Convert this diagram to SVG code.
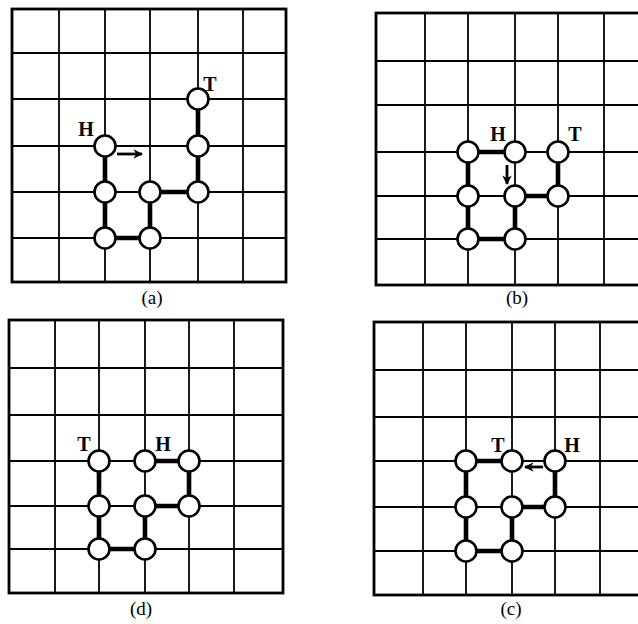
<svg xmlns="http://www.w3.org/2000/svg" width="638" height="624" viewBox="0 0 638 624">
<style>
.bg{fill:#fff}
.frame{fill:none;stroke:#000;stroke-width:2.8}
.grid line{stroke:#000;stroke-width:1.8}
.bond{stroke:#000;stroke-width:4.6;stroke-linecap:round}
.node circle{fill:#fff;stroke:#000;stroke-width:2.6}
.lbl{font-family:"Liberation Serif","Times New Roman",serif;font-weight:bold;font-size:20px;fill:#000;text-anchor:middle}
.cap{font-family:"Liberation Serif","Times New Roman",serif;font-size:19px;fill:#000;text-anchor:middle}
.arrow{stroke:#000;stroke-width:2.8;fill:none;marker-end:url(#ah)}
</style>
<defs>
<marker id="ah" viewBox="0 0 10 10" refX="9" refY="5" markerWidth="3.4" markerHeight="3.4" orient="auto" markerUnits="strokeWidth">
<path d="M0,0 L10,5 L0,10 L3,5 Z" fill="#000"/>
</marker>
</defs>
<rect class="bg" x="0" y="0" width="638" height="624"/>

<!-- Panel (a) grid -->
<g id="grid-a" class="grid">
<line x1="59" y1="9" x2="59" y2="282"/><line x1="105" y1="9" x2="105" y2="282"/><line x1="150" y1="9" x2="150" y2="282"/><line x1="198" y1="9" x2="198" y2="282"/><line x1="243" y1="9" x2="243" y2="282"/>
<line x1="12" y1="53" x2="286" y2="53"/><line x1="12" y1="99" x2="286" y2="99"/><line x1="12" y1="146" x2="286" y2="146"/><line x1="12" y1="192" x2="286" y2="192"/><line x1="12" y1="238" x2="286" y2="238"/>
<rect class="frame" x="12" y="9" width="274" height="273"/>
</g>
<!-- Panel (b) grid -->
<g id="grid-b" class="grid">
<line x1="425" y1="13" x2="425" y2="285"/><line x1="468" y1="13" x2="468" y2="285"/><line x1="515" y1="13" x2="515" y2="285"/><line x1="558" y1="13" x2="558" y2="285"/><line x1="604" y1="13" x2="604" y2="285"/>
<line x1="376" y1="61" x2="640" y2="61"/><line x1="376" y1="105" x2="640" y2="105"/><line x1="376" y1="152" x2="640" y2="152"/><line x1="376" y1="196" x2="640" y2="196"/><line x1="376" y1="239" x2="640" y2="239"/>
<rect class="frame" x="376" y="13" width="300" height="272"/>
</g>
<!-- Panel (d) grid -->
<g id="grid-d" class="grid">
<line x1="55" y1="320" x2="55" y2="593"/><line x1="99" y1="320" x2="99" y2="593"/><line x1="145" y1="320" x2="145" y2="593"/><line x1="189" y1="320" x2="189" y2="593"/><line x1="234" y1="320" x2="234" y2="593"/>
<line x1="9" y1="368" x2="283" y2="368"/><line x1="9" y1="415" x2="283" y2="415"/><line x1="9" y1="461" x2="283" y2="461"/><line x1="9" y1="506" x2="283" y2="506"/><line x1="9" y1="549" x2="283" y2="549"/>
<rect class="frame" x="9" y="320" width="274" height="273"/>
</g>
<!-- Panel (c) grid -->
<g id="grid-c" class="grid">
<line x1="423" y1="322" x2="423" y2="595"/><line x1="466" y1="322" x2="466" y2="595"/><line x1="512" y1="322" x2="512" y2="595"/><line x1="555" y1="322" x2="555" y2="595"/><line x1="600" y1="322" x2="600" y2="595"/>
<line x1="374" y1="370" x2="640" y2="370"/><line x1="374" y1="417" x2="640" y2="417"/><line x1="374" y1="461" x2="640" y2="461"/><line x1="374" y1="507" x2="640" y2="507"/><line x1="374" y1="551" x2="640" y2="551"/>
<rect class="frame" x="374" y="322" width="300" height="273"/>
</g>

<!-- Connectors (bonds and move arrows) -->
<g id="connectors">
<!-- (a) -->
<line class="bond" x1="105" y1="146" x2="105" y2="192"/>
<line class="bond" x1="105" y1="192" x2="105" y2="238"/>
<line class="bond" x1="105" y1="238" x2="150" y2="238"/>
<line class="bond" x1="150" y1="238" x2="150" y2="192"/>
<line class="bond" x1="150" y1="192" x2="198" y2="192"/>
<line class="bond" x1="198" y1="192" x2="198" y2="146"/>
<line class="bond" x1="198" y1="146" x2="198" y2="99"/>
<line class="arrow" x1="117" y1="154" x2="142" y2="154"/>
<!-- (b) -->
<line class="bond" x1="515" y1="152" x2="468" y2="152"/>
<line class="bond" x1="468" y1="152" x2="468" y2="196"/>
<line class="bond" x1="468" y1="196" x2="468" y2="239"/>
<line class="bond" x1="468" y1="239" x2="515" y2="239"/>
<line class="bond" x1="515" y1="239" x2="515" y2="196"/>
<line class="bond" x1="515" y1="196" x2="558" y2="196"/>
<line class="bond" x1="558" y1="196" x2="558" y2="152"/>
<line class="arrow" x1="507" y1="165" x2="507" y2="184"/>
<!-- (d) -->
<line class="bond" x1="145" y1="461" x2="189" y2="461"/>
<line class="bond" x1="189" y1="461" x2="189" y2="506"/>
<line class="bond" x1="189" y1="506" x2="145" y2="506"/>
<line class="bond" x1="145" y1="506" x2="145" y2="549"/>
<line class="bond" x1="145" y1="549" x2="99" y2="549"/>
<line class="bond" x1="99" y1="549" x2="99" y2="506"/>
<line class="bond" x1="99" y1="506" x2="99" y2="461"/>
<!-- (c) -->
<line class="bond" x1="555" y1="461" x2="555" y2="507"/>
<line class="bond" x1="555" y1="507" x2="512" y2="507"/>
<line class="bond" x1="512" y1="507" x2="512" y2="551"/>
<line class="bond" x1="512" y1="551" x2="466" y2="551"/>
<line class="bond" x1="466" y1="551" x2="466" y2="507"/>
<line class="bond" x1="466" y1="507" x2="466" y2="461"/>
<line class="bond" x1="466" y1="461" x2="512" y2="461"/>
<line class="arrow" x1="543" y1="467" x2="525" y2="467"/>
</g>

<!-- Nodes (a) -->
<g id="a-H" class="node"><circle cx="105" cy="146" r="10.5"/><text class="lbl" x="86" y="136">H</text></g>
<g id="a-2" class="node"><circle cx="105" cy="192" r="10.5"/></g>
<g id="a-3" class="node"><circle cx="105" cy="238" r="10.5"/></g>
<g id="a-4" class="node"><circle cx="150" cy="238" r="10.5"/></g>
<g id="a-5" class="node"><circle cx="150" cy="192" r="10.5"/></g>
<g id="a-6" class="node"><circle cx="198" cy="192" r="10.5"/></g>
<g id="a-7" class="node"><circle cx="198" cy="146" r="10.5"/></g>
<g id="a-T" class="node"><circle cx="198" cy="99" r="10.5"/><text class="lbl" x="210" y="91">T</text></g>
<!-- Nodes (b) -->
<g id="b-H" class="node"><circle cx="515" cy="152" r="10.5"/><text class="lbl" x="498" y="141">H</text></g>
<g id="b-2" class="node"><circle cx="468" cy="152" r="10.5"/></g>
<g id="b-3" class="node"><circle cx="468" cy="196" r="10.5"/></g>
<g id="b-4" class="node"><circle cx="468" cy="239" r="10.5"/></g>
<g id="b-5" class="node"><circle cx="515" cy="239" r="10.5"/></g>
<g id="b-6" class="node"><circle cx="515" cy="196" r="10.5"/></g>
<g id="b-7" class="node"><circle cx="558" cy="196" r="10.5"/></g>
<g id="b-T" class="node"><circle cx="558" cy="152" r="10.5"/><text class="lbl" x="575" y="141">T</text></g>
<!-- Nodes (d) -->
<g id="d-H" class="node"><circle cx="145" cy="461" r="10.5"/><text class="lbl" x="163" y="451">H</text></g>
<g id="d-2" class="node"><circle cx="189" cy="461" r="10.5"/></g>
<g id="d-3" class="node"><circle cx="189" cy="506" r="10.5"/></g>
<g id="d-4" class="node"><circle cx="145" cy="506" r="10.5"/></g>
<g id="d-5" class="node"><circle cx="145" cy="549" r="10.5"/></g>
<g id="d-6" class="node"><circle cx="99" cy="549" r="10.5"/></g>
<g id="d-7" class="node"><circle cx="99" cy="506" r="10.5"/></g>
<g id="d-T" class="node"><circle cx="99" cy="461" r="10.5"/><text class="lbl" x="84" y="451">T</text></g>
<!-- Nodes (c) -->
<g id="c-H" class="node"><circle cx="555" cy="461" r="10.5"/><text class="lbl" x="572" y="452">H</text></g>
<g id="c-2" class="node"><circle cx="555" cy="507" r="10.5"/></g>
<g id="c-3" class="node"><circle cx="512" cy="507" r="10.5"/></g>
<g id="c-4" class="node"><circle cx="512" cy="551" r="10.5"/></g>
<g id="c-5" class="node"><circle cx="466" cy="551" r="10.5"/></g>
<g id="c-6" class="node"><circle cx="466" cy="507" r="10.5"/></g>
<g id="c-7" class="node"><circle cx="466" cy="461" r="10.5"/></g>
<g id="c-T" class="node"><circle cx="512" cy="461" r="10.5"/><text class="lbl" x="498" y="452">T</text></g>

<!-- Captions -->
<text class="cap" x="152" y="304">(a)</text>
<text class="cap" x="517" y="304">(b)</text>
<text class="cap" x="141" y="615">(d)</text>
<text class="cap" x="511" y="615">(c)</text>
</svg>
